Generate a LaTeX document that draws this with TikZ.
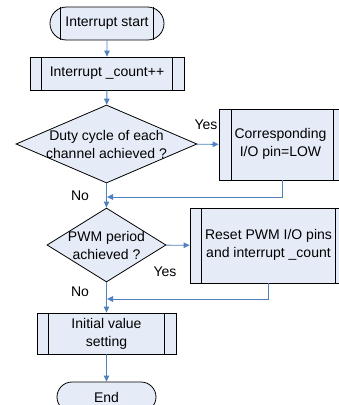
\documentclass[tikz,border=0pt]{standalone}
\usepackage{fontspec}
\setmainfont{Liberation Sans}
\usetikzlibrary{shapes.geometric,shapes.misc,arrows.meta}
\definecolor{boxfill}{HTML}{E6ECF7}
\definecolor{arrowblue}{HTML}{4F81BD}
\begin{document}
\begin{tikzpicture}[x=1pt,y=-1pt,
  font=\fontsize{14}{18}\selectfont,
  box/.style={draw=black, fill=boxfill, line width=0.8pt, inner sep=0pt, align=center},
  term/.style={box, rounded rectangle},
  dia/.style={box, diamond},
  txt/.style={inner sep=0pt, align=center},
  flow/.style={draw=arrowblue, line width=0.9pt, -{Triangle[length=6pt,width=5.5pt]}},
  inner/.style={draw=black, line width=0.8pt}]
\useasboundingbox (0,0) rectangle (339,405);
\clip (0,0) rectangle (339,405);

\node[term, minimum width=114pt, minimum height=33pt] (start) at (107,23.5) {Interrupt start};
\node[box, minimum width=154pt, minimum height=33pt] (count) at (107,73.5) {Interrupt \_count++};
\node[dia, minimum width=181pt, minimum height=78pt] (d1) at (106.5,144) {};
\node[txt] (d1t) at (106.5,144) {Duty cycle of each\\channel achieved ?};
\node[box, minimum width=127pt, minimum height=71pt] (corr) at (282.5,144.5) {};
\node[txt] (corrt) at (280.5,144) {Corresponding\\I/O pin=LOW};
\node[dia, minimum width=119pt, minimum height=74pt] (d2) at (106.5,245) {};
\node[txt] (d2t) at (106.5,245) {PWM period\\achieved ?};
\node[box, minimum width=157pt, minimum height=75pt] (reset) at (268.5,245.5) {};
\node[txt] (resett) at (268.5,245) {Reset PWM I/O pins\\and interrupt \_count};
\node[box, minimum width=139pt, minimum height=41pt] (init) at (106.5,333.5) {Initial value\\setting};
\node[term, minimum width=99pt, minimum height=30pt] (end) at (106.5,397) {End};

% inner vertical lines of the boxes
\foreach \n/\d in {start/11, count/12, corr/13, reset/12, init/12} {
  \draw[inner] ([xshift=\d pt]\n.west |- \n.north) -- ([xshift=\d pt]\n.west |- \n.south);
  \draw[inner] ([xshift=-\d pt]\n.east |- \n.north) -- ([xshift=-\d pt]\n.east |- \n.south);
}

\coordinate (m1) at (107,197);
\coordinate (m2) at (107,299);

\draw[flow] (start) -- (count);
\draw[flow] (count) -- (d1);
\draw[flow] (d1) -- (corr);
\draw[flow] (d1) -- (d2);
\draw[flow] (corr.south) -- (corr.south |- m1) -- (m1);
\draw[flow] (d2) -- (reset);
\draw[flow] (d2) -- (init);
\draw[flow] (reset.south) -- (reset.south |- m2) -- (m2);
\draw[flow] (init) -- (end);

\node[txt] (y1) at (206,125) {Yes};
\node[txt] (n1) at (80,196) {No};
\node[txt] (y2) at (165,272) {Yes};
\node[txt] (n2) at (80,292) {No};
\end{tikzpicture}
\end{document}
